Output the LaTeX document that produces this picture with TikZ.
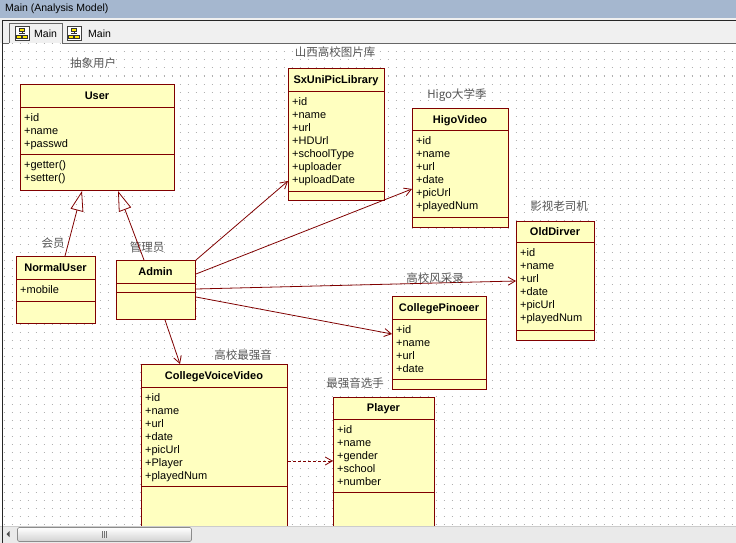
\documentclass[tikz,border=0pt]{standalone}
\usepackage{fontspec}
\setmainfont{Liberation Sans}
\newfontfamily\cjk{Noto Sans CJK SC}
\usetikzlibrary{positioning}
\usetikzlibrary{arrows.meta}
\usetikzlibrary{calc}

\definecolor{umlred}{HTML}{800000}
\definecolor{umlfill}{HTML}{FFFFC0}
\definecolor{titlebar}{HTML}{A5B7CF}
\definecolor{tabbg}{HTML}{F0F0F0}
\definecolor{griddot}{HTML}{B0B0B0}
\definecolor{labelgray}{HTML}{555555}
\definecolor{scrollbg}{HTML}{EAEAEA}

\tikzset{
  classbox/.style={rectangle,draw=umlred,fill=umlfill,line width=1pt,inner sep=0pt,anchor=north west},
  classname/.style={font=\fontsize{11}{13}\selectfont\bfseries,anchor=base,inner sep=0pt},
  members/.style={font=\fontsize{11}{13}\selectfont,align=left,anchor=north west,inner sep=0pt},
  stereo/.style={font=\fontsize{11.5}{13}\cjk,text=labelgray,inner sep=0pt},
  sepline/.style={draw=umlred,line width=1pt},
  assoc/.style={draw=umlred,line width=0.8pt,-{Straight Barb[length=7pt,width=8pt]}},
  inherit/.style={draw=umlred,line width=0.8pt,-{Triangle[open,length=20pt,width=13pt]}},
  tabicon/.style={draw=black!75,fill=white,line width=0.6pt},
}

\begin{document}
\begin{tikzpicture}[x=1pt,y=-1pt]
\useasboundingbox (0,0) rectangle (736,543);
\fill[white] (0,0) rectangle (736,543);

% grid
\foreach \gy in {44,52,...,524}
  \draw[griddot,line width=1pt,dash pattern=on 1pt off 7pt] (3.5,\gy) -- (736,\gy);

% window title and tabs
\fill[titlebar] (0,0) rectangle (736,18);
\node[font=\fontsize{10.5}{12}\selectfont,anchor=west,inner sep=0pt] (wintitle) at (5,9) {Main (Analysis Model)};
\fill[tabbg] (0,18) rectangle (736,43);
\draw[black!85,line width=1pt] (2.5,43) -- (2.5,21) -- (736,21);
\draw[black!60,line width=0.8pt] (3,43.5) -- (9,43.5);
\draw[black!60,line width=0.8pt] (62,43.5) -- (736,43.5);
\draw[black!60,line width=0.8pt] (9,43.5) -- (9,23.5) -- (62,23.5) -- (62,43.5);
\draw[tabicon] (15,26) rectangle (29,40);
\fill[yellow!90!orange] (19.5,28) rectangle (24.5,31.5);
\fill[yellow!90!orange] (16.5,35) rectangle (21.5,38.5);
\fill[yellow!90!orange] (22.5,35) rectangle (27.5,38.5);
\draw[black!80,line width=0.5pt] (19.5,28) rectangle (24.5,31.5) (16.5,35) rectangle (21.5,38.5) (22.5,35) rectangle (27.5,38.5) (22,31.5) -- (22,33.5) (19,33.5) -- (25,33.5);
\node[font=\fontsize{10.5}{12}\selectfont,anchor=west,inner sep=0pt] (tabone) at (34,34) {Main};
\draw[tabicon] (67,26) rectangle (81,40);
\fill[yellow!90!orange] (71.5,28) rectangle (76.5,31.5);
\fill[yellow!90!orange] (68.5,35) rectangle (73.5,38.5);
\fill[yellow!90!orange] (74.5,35) rectangle (79.5,38.5);
\draw[black!80,line width=0.5pt] (71.5,28) rectangle (76.5,31.5) (68.5,35) rectangle (73.5,38.5) (74.5,35) rectangle (79.5,38.5) (74,31.5) -- (74,33.5) (71,33.5) -- (77,33.5);
\node[font=\fontsize{10.5}{12}\selectfont,anchor=west,inner sep=0pt] (tabtwo) at (88,34) {Main};
\draw[black!85,line width=1pt] (2.5,43) -- (2.5,526);

% User
\node[classbox,minimum width=154pt,minimum height=106pt] (user) at (20,84) {};
\draw[sepline] ($(user.north west)+(0,23)$) -- ($(user.north east)+(0,23)$);
\draw[sepline] ($(user.north west)+(0,70)$) -- ($(user.north east)+(0,70)$);
\node[classname] (usertitle) at (97,99.5) {User};
\node[members] (userattr) at (24,113) {+id\\+name\\+passwd};
\node[members] (userops) at (24,160) {+getter()\\+setter()};
\node[stereo] (userlbl) at (93,63) {抽象用户};

% SxUniPicLibrary
\node[classbox,minimum width=96pt,minimum height=132pt] (sxuni) at (288,68) {};
\draw[sepline] ($(sxuni.north west)+(0,23)$) -- ($(sxuni.north east)+(0,23)$);
\draw[sepline] ($(sxuni.north west)+(0,123)$) -- ($(sxuni.north east)+(0,123)$);
\node[classname] (sxunititle) at (336,83.5) {SxUniPicLibrary};
\node[members] (sxuniattr) at (292,97) {+id\\+name\\+url\\+HDUrl\\+schoolType\\+uploader\\+uploadDate};
\node[stereo] (sxunilbl) at (335,52) {山西高校图片库};

% HigoVideo
\node[classbox,minimum width=96pt,minimum height=119pt] (higo) at (412,108) {};
\draw[sepline] ($(higo.north west)+(0,22)$) -- ($(higo.north east)+(0,22)$);
\draw[sepline] ($(higo.north west)+(0,109)$) -- ($(higo.north east)+(0,109)$);
\node[classname] (higotitle) at (460,123) {HigoVideo};
\node[members] (higoattr) at (416,136) {+id\\+name\\+url\\+date\\+picUrl\\+playedNum};
\node[stereo] (higolbl) at (457,95) {Higo大学季};

% OldDirver
\node[classbox,minimum width=78pt,minimum height=119pt] (olddirver) at (516,221) {};
\draw[sepline] ($(olddirver.north west)+(0,21)$) -- ($(olddirver.north east)+(0,21)$);
\draw[sepline] ($(olddirver.north west)+(0,109)$) -- ($(olddirver.north east)+(0,109)$);
\node[classname] (olddirvertitle) at (555,235.5) {OldDirver};
\node[members] (olddirverattr) at (520,248) {+id\\+name\\+url\\+date\\+picUrl\\+playedNum};
\node[stereo] (olddirverlbl) at (559,206) {影视老司机};

% NormalUser
\node[classbox,minimum width=79pt,minimum height=67pt] (normaluser) at (16,256) {};
\draw[sepline] ($(normaluser.north west)+(0,23)$) -- ($(normaluser.north east)+(0,23)$);
\draw[sepline] ($(normaluser.north west)+(0,45)$) -- ($(normaluser.north east)+(0,45)$);
\node[classname] (normalusertitle) at (55.5,271.5) {NormalUser};
\node[members] (normaluserattr) at (20,285) {+mobile};
\node[stereo] (normaluserlbl) at (53,243) {会员};

% Admin
\node[classbox,minimum width=79pt,minimum height=59pt] (admin) at (116,260) {};
\draw[sepline] ($(admin.north west)+(0,23)$) -- ($(admin.north east)+(0,23)$);
\draw[sepline] ($(admin.north west)+(0,32)$) -- ($(admin.north east)+(0,32)$);
\node[classname] (admintitle) at (155.5,275.5) {Admin};
\node[stereo] (adminlbl) at (147,247) {管理员};

% CollegePinoeer
\node[classbox,minimum width=94pt,minimum height=93pt] (pinoeer) at (392,296) {};
\draw[sepline] ($(pinoeer.north west)+(0,23)$) -- ($(pinoeer.north east)+(0,23)$);
\draw[sepline] ($(pinoeer.north west)+(0,83)$) -- ($(pinoeer.north east)+(0,83)$);
\node[classname] (pinoeertitle) at (439,311.5) {CollegePinoeer};
\node[members] (pinoeerattr) at (396,325) {+id\\+name\\+url\\+date};

% CollegeVoiceVideo
\node[classbox,minimum width=146pt,minimum height=200pt] (cvv) at (141,364) {};
\draw[sepline] ($(cvv.north west)+(0,23)$) -- ($(cvv.north east)+(0,23)$);
\draw[sepline] ($(cvv.north west)+(0,122)$) -- ($(cvv.north east)+(0,122)$);
\node[classname] (cvvtitle) at (214,379.5) {CollegeVoiceVideo};
\node[members] (cvvattr) at (145,393) {+id\\+name\\+url\\+date\\+picUrl\\+Player\\+playedNum};
\node[stereo] (cvvlbl) at (243,355) {高校最强音};

% Player
\node[classbox,minimum width=101pt,minimum height=200pt] (player) at (333,397) {};
\draw[sepline] ($(player.north west)+(0,22)$) -- ($(player.north east)+(0,22)$);
\draw[sepline] ($(player.north west)+(0,95)$) -- ($(player.north east)+(0,95)$);
\node[classname] (playertitle) at (383.5,411) {Player};
\node[members] (playerattr) at (337,425) {+id\\+name\\+gender\\+school\\+number};
\node[stereo] (playerlbl) at (355,383) {最强音选手};

% generalization
\draw[inherit] ($(normaluser.north west)+(49,0)$) -- ($(user.south west)+(62,0)$);
\draw[inherit] ($(admin.north west)+(28,0)$) -- ($(user.south west)+(98,0)$);

% associations
\draw[assoc] (admin.north east) -- ($(sxuni.south west)+(0,-20)$);
\draw[assoc] ($(admin.north east)+(0,14)$) -- ($(higo.south west)+(0,-39)$);
\draw[assoc] ($(admin.north east)+(0,29)$) -- ($(olddirver.north west)+(0,60)$);
\draw[assoc] ($(admin.north east)+(0,37)$) -- ($(pinoeer.north west)+(0,38)$);
\draw[assoc] ($(admin.south west)+(49,0)$) -- ($(cvv.north west)+(39,0)$);
\draw[assoc,dash pattern=on 3pt off 2pt] ($(cvv.north east)+(0,97)$) -- ($(player.north west)+(0,64)$);
\node[stereo] (olddirverrel) at (435,278) {高校风采录};

% scrollbar
\fill[scrollbg] (0,526) rectangle (736,543);
\draw[black!20,line width=0.6pt] (0,526.3) -- (736,526.3);
\draw[black!85,line width=1pt] (2.5,526) -- (2.5,543);
\fill[black!70] (6.5,534) -- (9.5,531) -- (9.5,537) -- cycle;
\shade[top color=white,bottom color=black!18,draw=black!45,rounded corners=1.5pt,line width=0.6pt] (17.5,527.5) rectangle (191.5,541.5);
\draw[black!55,line width=0.6pt] (102.5,531) -- (102.5,538) (104.5,531) -- (104.5,538) (106.5,531) -- (106.5,538);
\end{tikzpicture}
\end{document}
